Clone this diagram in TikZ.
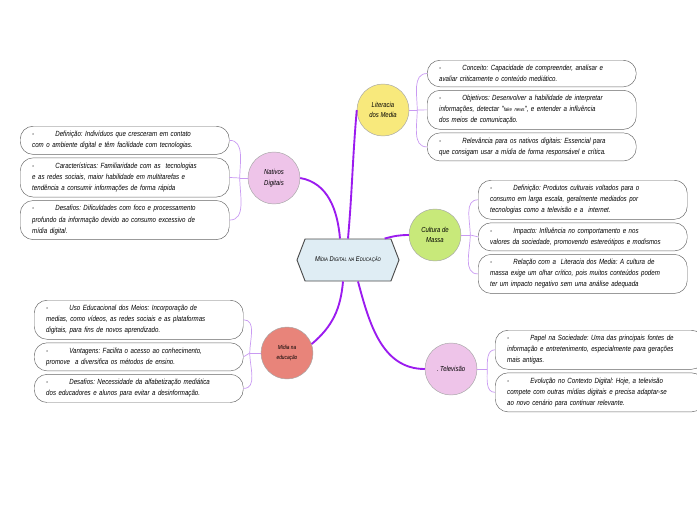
\documentclass[tikz,border=0pt]{standalone}
\usepackage{fontspec}
\usetikzlibrary{shapes.geometric, shapes.symbols, positioning}
\newfontfamily\mapfont[FakeStretch=0.82]{Liberation Sans}
\definecolor{purp}{HTML}{9B1BEF}
\definecolor{lilac}{HTML}{C99AF2}
\definecolor{hubfill}{HTML}{DFEDF4}
\definecolor{yel}{HTML}{F8E97C}
\definecolor{pnk}{HTML}{EEC4E9}
\definecolor{grn}{HTML}{C8E97A}
\definecolor{salm}{HTML}{E8847A}
\newcommand\lowcaps[1]{{\fontsize{4.4}{5}\selectfont #1}}
\newcommand\dash{-\hspace{18pt}}

\begin{document}
\frenchspacing
\begin{tikzpicture}[x=0.03cm, y=-0.03cm,
    hubnode/.style={signal, signal to=west and east, signal pointer angle=138, draw=black!70, line width=0.8pt, fill=hubfill, minimum width=3.06cm, minimum height=1.26cm, font=\mapfont\itshape\fontsize{6}{7}\selectfont},
    topic/.style={circle, draw=gray!70, minimum size=1.56cm, inner sep=0pt, align=center, font=\mapfont\itshape\fontsize{6.2}{9}\selectfont},
    note/.style={rectangle, rounded corners=11pt, draw=gray!80!black, fill=white, text width=5.55cm, inner xsep=0.36cm, inner ysep=4.3pt, align=left, font=\mapfont\itshape\fontsize{6.4}{9.4}\selectfont},
    branch/.style={draw=purp, line width=1.6pt},
    twig/.style={draw=lilac, line width=0.6pt}
]
\useasboundingbox (0,0) rectangle (697,520);

\node[hubnode] (hub) at (348,260) {M\lowcaps{ÍDIA} D\lowcaps{IGITAL} \lowcaps{NA} E\lowcaps{DUCAÇÃO}};

\node[topic, fill=yel] (lit) at (383,110) {Literacia\\dos Media};
\node[topic, fill=pnk] (nat) at (274,178) {Nativos\\Digitais};
\node[topic, fill=grn] (cult) at (435,235) {Cultura de\\Massa};
\node[topic, fill=salm, font=\mapfont\itshape\fontsize{5}{8}\selectfont] (mid) at (287,353) {Mídia na\\educação};
\node[topic, fill=pnk] (tv) at (451,369) {. Televisão};

\node[note, anchor=north west] (lit1) at (427,60) {\dash Conceito: Capacidade de compreender, analisar e\\avaliar criticamente o conteúdo mediático.};
\node[note, below=0.09cm of lit1] (lit2) {\dash Objetivos: Desenvolver a habilidade de interpretar\\informações, detectar "{\fontsize{4.5}{5}\selectfont fake news}", e entender a influência\\dos meios de comunicação.};
\node[note, below=0.09cm of lit2] (lit3) {\dash Relevância para os nativos digitais: Essencial para\\que consigam usar a mídia de forma responsável e crítica.};

\node[note, anchor=north west] (nat1) at (20,126) {\dash Definição: Indivíduos que cresceram em contato\\com o ambiente digital e têm facilidade com tecnologias.};
\node[note, below=0.09cm of nat1] (nat2) {\dash Características: Familiaridade com as\ \ tecnologias\\e as redes sociais, maior habilidade em multitarefas e\\tendência a consumir informações de forma rápida};
\node[note, below=0.09cm of nat2] (nat3) {\dash Desafios: Dificuldades com foco e processamento\\profundo da informação devido ao consumo excessivo de\\mídia digital.};

\node[note, anchor=north west] (cult1) at (478,180) {\dash Definição: Produtos culturais voltados para o\\consumo em larga escala, geralmente mediados por\\tecnologias como a televisão e a\ \ internet.};
\node[note, below=0.09cm of cult1] (cult2) {\dash Impacto: Influência no comportamento e nos\\valores da sociedade, promovendo estereótipos e modismos};
\node[note, below=0.09cm of cult2] (cult3) {\dash Relação com a\ \ Literacia dos Media: A cultura de\\massa exige um olhar crítico, pois muitos conteúdos podem\\ter um impacto negativo sem uma análise adequada};

\node[note, anchor=north west] (mid1) at (34,300) {\dash Uso Educacional dos Meios: Incorporação de\\medias, como vídeos, as redes sociais e as plataformas\\digitais, para fins de novos aprendizado.};
\node[note, below=0.09cm of mid1] (mid2) {\dash Vantagens: Facilita o acesso ao conhecimento,\\promove\ \ a diversifica os métodos de ensino.};
\node[note, below=0.09cm of mid2] (mid3) {\dash Desafios: Necessidade da alfabetização mediática\\dos educadores e alunos para evitar a desinformação.};

\node[note, anchor=north west] (tv1) at (495,330) {\dash Papel na Sociedade: Uma das principais fontes de\\informação e entretenimento, especialmente para gerações\\mais antigas.};
\node[note, below=0.09cm of tv1] (tv2) {\dash Evolução no Contexto Digital: Hoje, a televisão\\compete com outras mídias digitais e precisa adaptar-se\\ao novo cenário para continuar relevante.};

\draw[branch] ([xshift=-0.24cm]hub.north) to[out=95,in=-10] (nat.east);
\draw[branch] (hub.north) to[out=85,in=-95] (lit.west);
\draw[branch] ([xshift=1.1cm]hub.north) to[out=15,in=180] (cult.west);
\draw[branch] ([xshift=-0.15cm]hub.south) to[out=-95,in=40] (mid.20);
\draw[branch] ([xshift=0.3cm]hub.south) to[out=-75,in=180] (tv.west);

\coordinate[right=0.24cm of lit] (litj);
\draw[twig] (lit.east) -- (litj);
\draw[twig] (litj) to[out=90,in=180] (lit1.west);
\draw[twig] (litj) -- (lit2.west);
\draw[twig] (litj) to[out=-90,in=180] (lit3.west);

\coordinate[left=0.24cm of nat] (natj);
\draw[twig] (nat.west) -- (natj);
\draw[twig] (natj) to[out=90,in=0] (nat1.east);
\draw[twig] (natj) -- (nat2.east);
\draw[twig] (natj) to[out=-90,in=0] (nat3.east);

\coordinate[right=0.27cm of cult] (cultj);
\draw[twig] (cult.east) -- (cultj);
\draw[twig] (cultj) to[out=90,in=180] (cult1.west);
\draw[twig] (cultj) -- (cult2.west);
\draw[twig] (cultj) to[out=-90,in=180] (cult3.west);

\coordinate[left=0.33cm of mid] (midj);
\draw[twig] (mid.west) -- (midj);
\draw[twig] (midj) to[out=90,in=0] (mid1.east);
\draw[twig] (midj) -- (mid2.east);
\draw[twig] (midj) to[out=-90,in=0] (mid3.east);

\coordinate[right=0.3cm of tv] (tvj);
\draw[twig] (tv.east) -- (tvj);
\draw[twig] (tvj) to[out=90,in=180] (tv1.west);
\draw[twig] (tvj) to[out=-90,in=180] (tv2.west);
\end{tikzpicture}
\end{document}
